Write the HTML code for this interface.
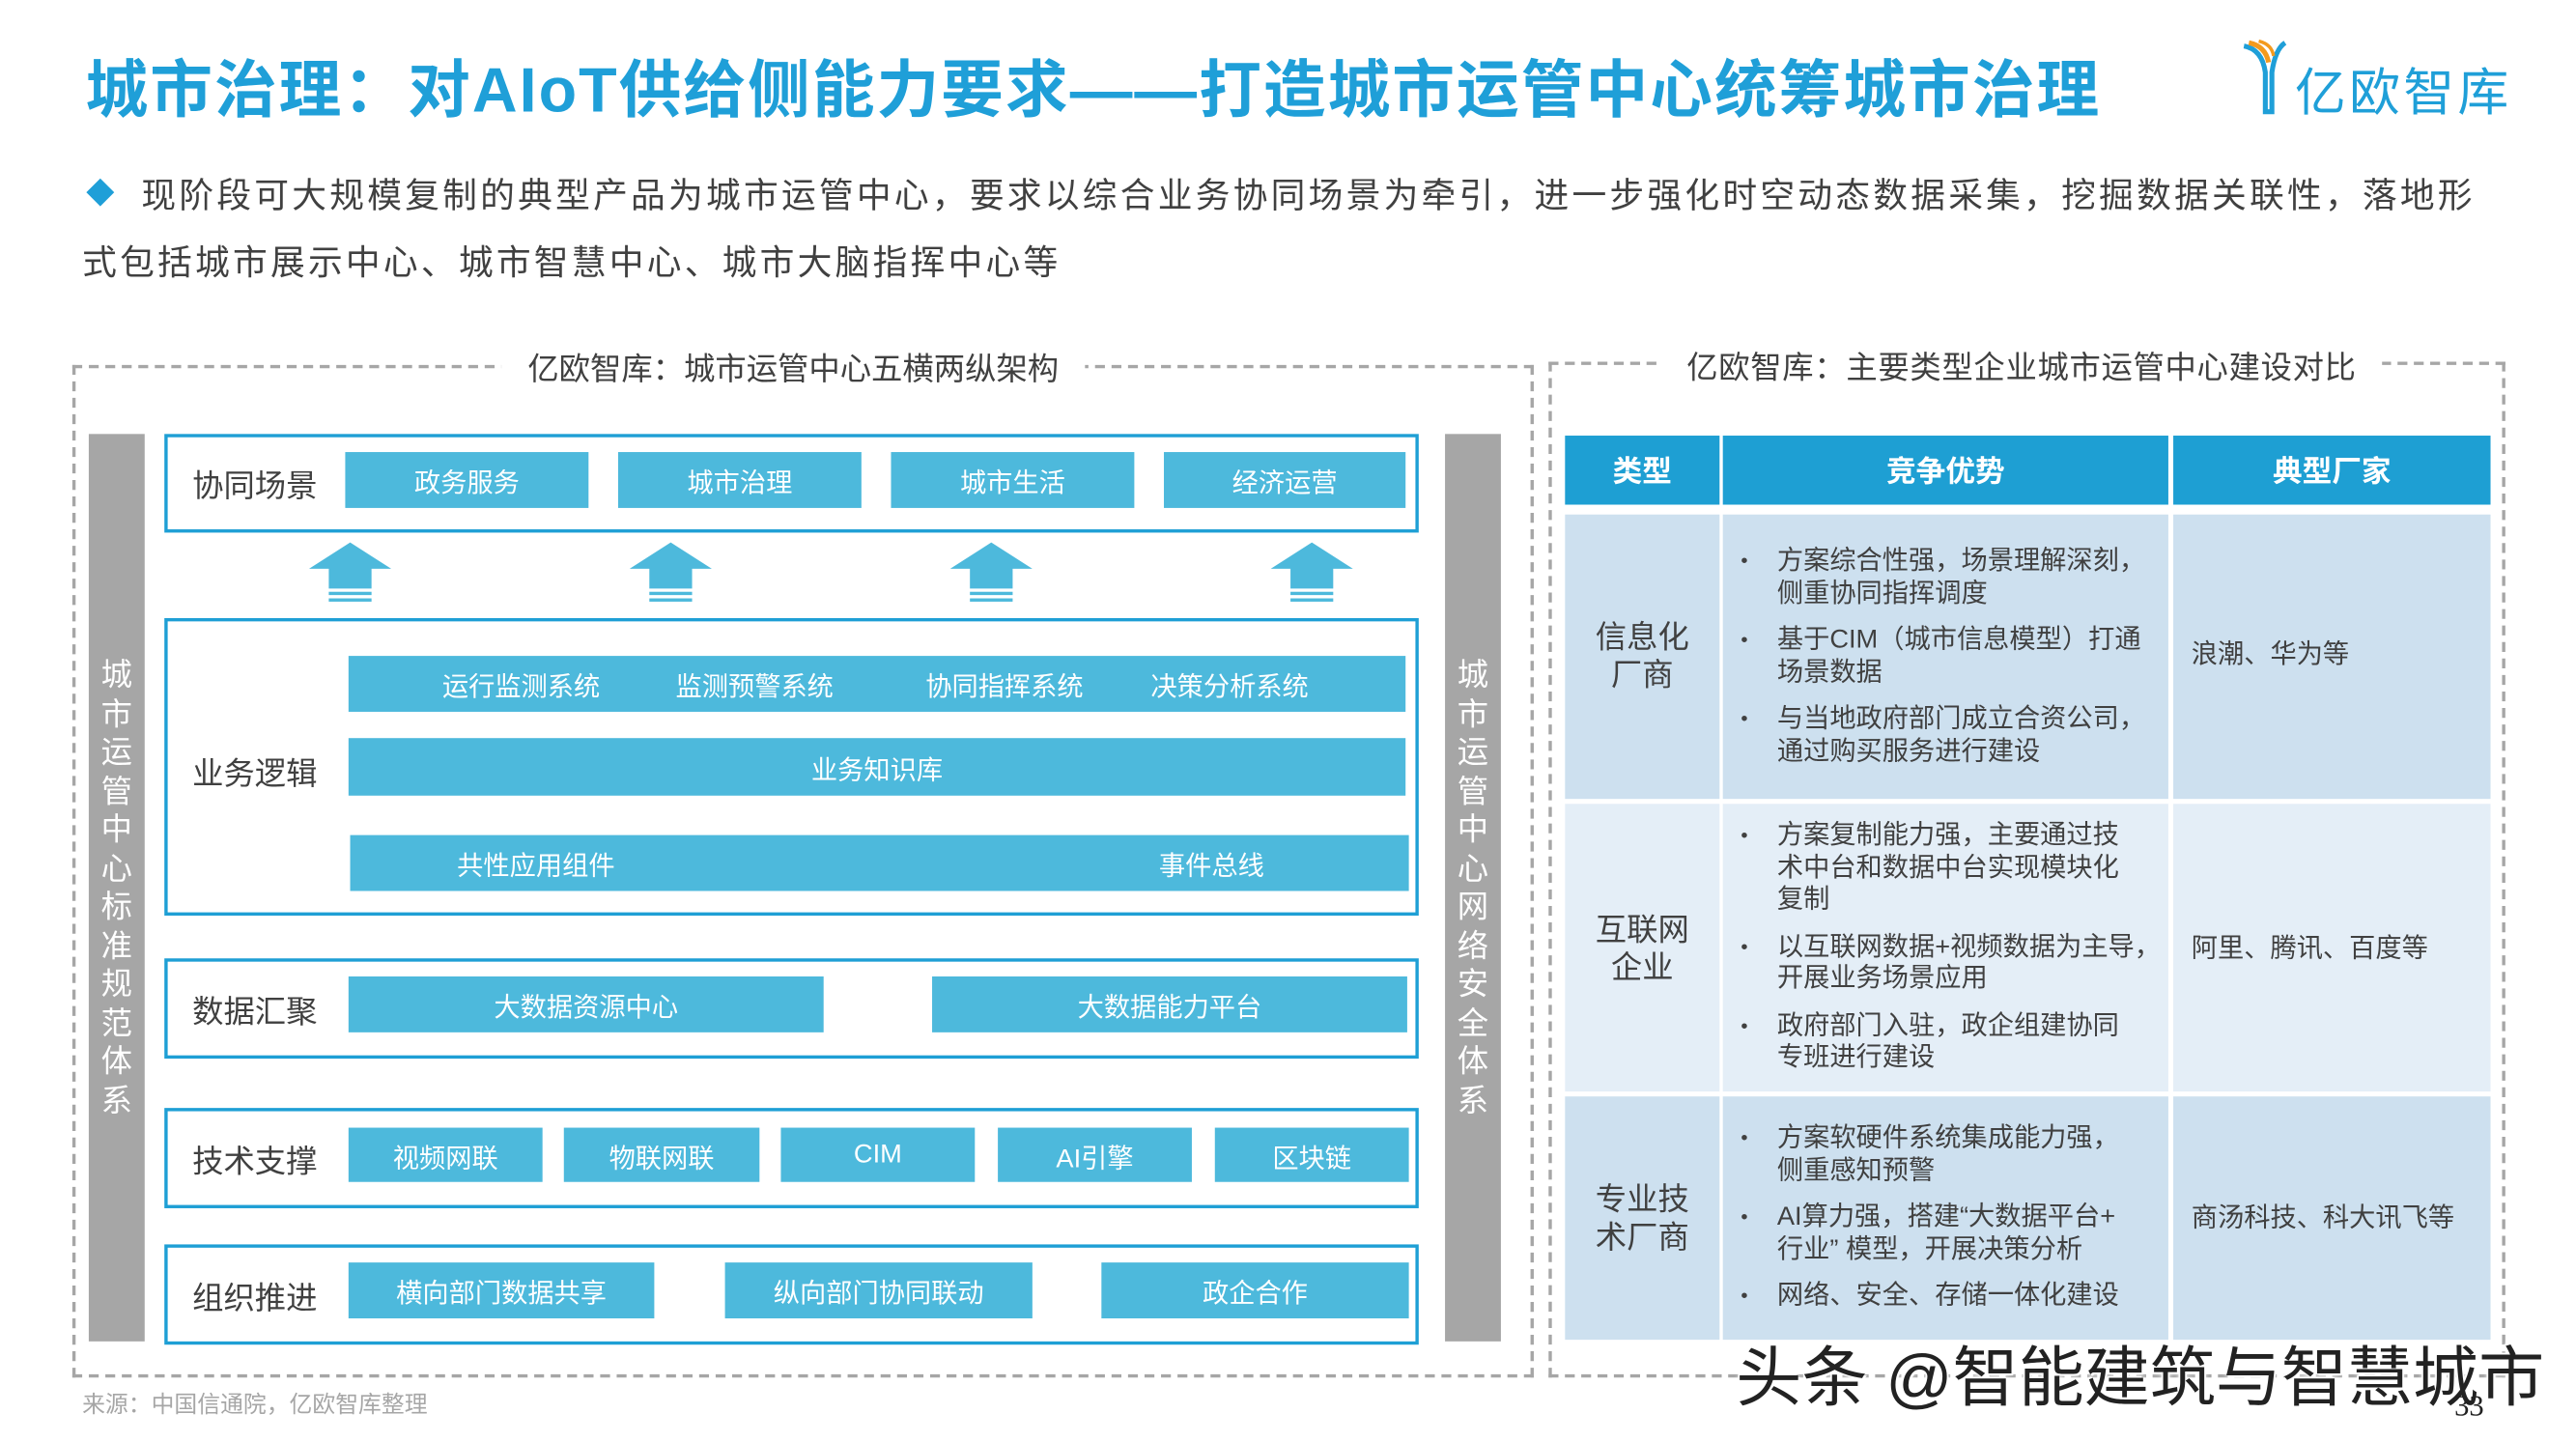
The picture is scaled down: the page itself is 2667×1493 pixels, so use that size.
<!DOCTYPE html>
<html><head><meta charset="utf-8"><style>
html,body{margin:0;padding:0;background:#fff;}
body{width:2667px;height:1493px;overflow:hidden;}
#s{position:absolute;left:0;top:0;width:1560px;height:873px;transform:scale(1.702);transform-origin:0 0;font-family:"Liberation Sans","Noto Sans CJK SC",sans-serif;color:#404040;}
.a{position:absolute;}
.chip{position:absolute;background:#4db9dc;color:#fff;font-size:16px;display:flex;align-items:center;justify-content:center;white-space:nowrap;}
.row{position:absolute;left:100px;width:763px;border:2px solid #1e9fd5;box-sizing:border-box;}
.lab{position:absolute;left:117px;font-size:19px;color:#404040;white-space:nowrap;}
.vbar{position:absolute;top:264px;width:34px;height:552px;background:#a6a6a6;color:#fff;font-size:19px;text-align:center;}
.vbar div{position:absolute;left:0;width:34px;top:136px;line-height:23.5px;}
.cell{position:absolute;box-sizing:border-box;font-size:16px;line-height:19.5px;color:#404040;white-space:nowrap;}
.hd{position:absolute;top:265px;height:42px;background:#1e9fd3;color:#fff;font-weight:bold;font-size:18px;display:flex;align-items:center;justify-content:center;}
ul{margin:0;padding:0 0 0 33px;list-style:none;}
li{position:relative;margin-bottom:9px;}
li:before{content:"•";position:absolute;left:-22px;font-size:12px;}
</style></head><body><div id="s">
<div class="a" style="left:52px;top:24px;font-size:38px;font-weight:bold;color:#1f9fd8;white-space:nowrap;letter-spacing:1.2px">城市治理：对AIoT供给侧能力要求——打造城市运管中心统筹城市治理</div>
<svg class="a" style="left:1362px;top:24px" width="30" height="46"><path d="M3 4 Q14 6 16 20 L16 44 L20 44 L20 20 Q22 6 28 2" fill="none" stroke="#1f9fd8" stroke-width="3"/><path d="M6 2 Q16 4 18 14" fill="none" stroke="#f39a1e" stroke-width="3"/><path d="M12 1 Q20 3 21 10" fill="none" stroke="#f39a1e" stroke-width="2"/></svg>
<div class="a" style="left:1396px;top:31px;font-size:31px;color:#1f9fd8;white-space:nowrap;letter-spacing:2px">亿欧智库</div>
<div class="a" style="left:55px;top:111px;width:12px;height:12px;background:#1f9fd8;transform:rotate(45deg)"></div>
<div class="a" style="left:86px;top:103px;font-size:21px;color:#404040;white-space:nowrap;letter-spacing:1.9px">现阶段可大规模复制的典型产品为城市运管中心，要求以综合业务协同场景为牵引，进一步强化时空动态数据采集，挖掘数据关联性，落地形</div>
<div class="a" style="left:50px;top:144px;font-size:21px;color:#404040;white-space:nowrap;letter-spacing:1.9px">式包括城市展示中心、城市智慧中心、城市大脑指挥中心等</div>

<div class="a" style="left:44px;top:222px;width:889px;height:616px;border:2px dashed #a6a6a6;box-sizing:border-box"></div>
<div class="a" style="left:305px;top:210px;padding:0 16px;background:#fff;font-size:19px;white-space:nowrap">亿欧智库：城市运管中心五横两纵架构</div>
<div class="a" style="left:942px;top:220px;width:582px;height:618px;border:2px dashed #a6a6a6;box-sizing:border-box"></div>
<div class="a" style="left:1010px;top:209px;padding:0 16px;background:#fff;font-size:19px;white-space:nowrap;letter-spacing:0.4px">亿欧智库：主要类型企业城市运管中心建设对比</div>

<div class="vbar" style="left:54px"><div>城<br>市<br>运<br>管<br>中<br>心<br>标<br>准<br>规<br>范<br>体<br>系</div></div>
<div class="vbar" style="left:879px"><div>城<br>市<br>运<br>管<br>中<br>心<br>网<br>络<br>安<br>全<br>体<br>系</div></div>

<div class="row" style="top:264px;height:60px"></div>
<div class="lab" style="top:281px">协同场景</div>
<div class="chip" style="left:210px;top:275px;width:148px;height:34px">政务服务</div>
<div class="chip" style="left:376px;top:275px;width:148px;height:34px">城市治理</div>
<div class="chip" style="left:542px;top:275px;width:148px;height:34px">城市生活</div>
<div class="chip" style="left:708px;top:275px;width:147px;height:34px">经济运营</div>

<svg class="a" style="left:0;top:328px" width="880" height="42">
<g fill="#4db9dc">
<g transform="translate(213,0)"><polygon points="0,2 25,18 13,18 13,30 -13,30 -13,18 -25,18"/><rect x="-13" y="32" width="26" height="2"/><rect x="-13" y="36" width="26" height="2"/></g>
<g transform="translate(408,0)"><polygon points="0,2 25,18 13,18 13,30 -13,30 -13,18 -25,18"/><rect x="-13" y="32" width="26" height="2"/><rect x="-13" y="36" width="26" height="2"/></g>
<g transform="translate(603,0)"><polygon points="0,2 25,18 13,18 13,30 -13,30 -13,18 -25,18"/><rect x="-13" y="32" width="26" height="2"/><rect x="-13" y="36" width="26" height="2"/></g>
<g transform="translate(798,0)"><polygon points="0,2 25,18 13,18 13,30 -13,30 -13,18 -25,18"/><rect x="-13" y="32" width="26" height="2"/><rect x="-13" y="36" width="26" height="2"/></g>
</g></svg>

<div class="row" style="top:376px;height:181px"></div>
<div class="lab" style="top:456px">业务逻辑</div>
<div class="chip" style="left:212px;top:399px;width:643px;height:34px;justify-content:flex-start"><span class="a" style="left:57px">运行监测系统</span><span class="a" style="left:199px">监测预警系统</span><span class="a" style="left:351px">协同指挥系统</span><span class="a" style="left:488px">决策分析系统</span></div>
<div class="chip" style="left:212px;top:449px;width:643px;height:35px">业务知识库</div>
<div class="chip" style="left:213px;top:508px;width:644px;height:34px;justify-content:flex-start"><span class="a" style="left:65px">共性应用组件</span><span class="a" style="left:492px">事件总线</span></div>

<div class="row" style="top:583px;height:61px"></div>
<div class="lab" style="top:601px">数据汇聚</div>
<div class="chip" style="left:212px;top:594px;width:289px;height:34px">大数据资源中心</div>
<div class="chip" style="left:567px;top:594px;width:289px;height:34px">大数据能力平台</div>

<div class="row" style="top:674px;height:61px"></div>
<div class="lab" style="top:692px">技术支撑</div>
<div class="chip" style="left:212px;top:686px;width:118px;height:33px">视频网联</div>
<div class="chip" style="left:343px;top:686px;width:119px;height:33px">物联网联</div>
<div class="chip" style="left:475px;top:686px;width:118px;height:33px">CIM</div>
<div class="chip" style="left:607px;top:686px;width:118px;height:33px">AI引擎</div>
<div class="chip" style="left:739px;top:686px;width:118px;height:33px">区块链</div>

<div class="row" style="top:757px;height:61px"></div>
<div class="lab" style="top:775px">组织推进</div>
<div class="chip" style="left:212px;top:768px;width:186px;height:34px">横向部门数据共享</div>
<div class="chip" style="left:441px;top:768px;width:187px;height:34px">纵向部门协同联动</div>
<div class="chip" style="left:670px;top:768px;width:187px;height:34px">政企合作</div>

<div class="hd" style="left:952px;width:94px">类型</div>
<div class="hd" style="left:1048px;width:271px">竞争优势</div>
<div class="hd" style="left:1322px;width:193px">典型厂家</div>

<div class="cell" style="left:952px;top:313px;width:94px;height:173px;background:#cde0ef;font-size:19px;line-height:23px;text-align:center;padding-top:64px">信息化<br>厂商</div>
<div class="cell" style="left:1048px;top:313px;width:271px;height:173px;background:#cde0ef;padding-top:19px"><ul><li>方案综合性强，场景理解深刻，<br>侧重协同指挥调度</li><li>基于CIM（城市信息模型）打通<br>场景数据</li><li>与当地政府部门成立合资公司，<br>通过购买服务进行建设</li></ul></div>
<div class="cell" style="left:1322px;top:313px;width:193px;height:173px;background:#cde0ef;padding:76px 0 0 11px">浪潮、华为等</div>

<div class="cell" style="left:952px;top:489px;width:94px;height:175px;background:#e4eef7;font-size:19px;line-height:23px;text-align:center;padding-top:66px">互联网<br>企业</div>
<div class="cell" style="left:1048px;top:489px;width:271px;height:175px;background:#e4eef7;padding-top:10px"><ul><li>方案复制能力强，主要通过技<br>术中台和数据中台实现模块化<br>复制</li><li>以互联网数据+视频数据为主导，<br>开展业务场景应用</li><li>政府部门入驻，政企组建协同<br>专班进行建设</li></ul></div>
<div class="cell" style="left:1322px;top:489px;width:193px;height:175px;background:#e4eef7;padding:79px 0 0 11px">阿里、腾讯、百度等</div>

<div class="cell" style="left:952px;top:667px;width:94px;height:148px;background:#cde0ef;font-size:19px;line-height:23px;text-align:center;padding-top:52px">专业技<br>术厂商</div>
<div class="cell" style="left:1048px;top:667px;width:271px;height:148px;background:#cde0ef;padding-top:16px"><ul><li>方案软硬件系统集成能力强，<br>侧重感知预警</li><li>AI算力强，搭建“大数据平台+<br>行业” 模型，开展决策分析</li><li>网络、安全、存储一体化建设</li></ul></div>
<div class="cell" style="left:1322px;top:667px;width:193px;height:148px;background:#cde0ef;padding:65px 0 0 11px">商汤科技、科大讯飞等</div>

<div class="a" style="left:50px;top:844px;font-size:14px;color:#a6a6a6;white-space:nowrap">来源：中国信通院，亿欧智库整理</div>
<div class="a" style="left:1056px;top:806px;font-size:40px;color:#222;white-space:nowrap;text-shadow:0 0 3px #fff,0 0 3px #fff,1px 1px 0 #fff,-1px -1px 0 #fff">头条 @智能建筑与智慧城市</div>
<div class="a" style="left:1493px;top:845px;font-size:18px;color:#222;font-family:'Liberation Serif',serif">33</div>
</div></body></html>
